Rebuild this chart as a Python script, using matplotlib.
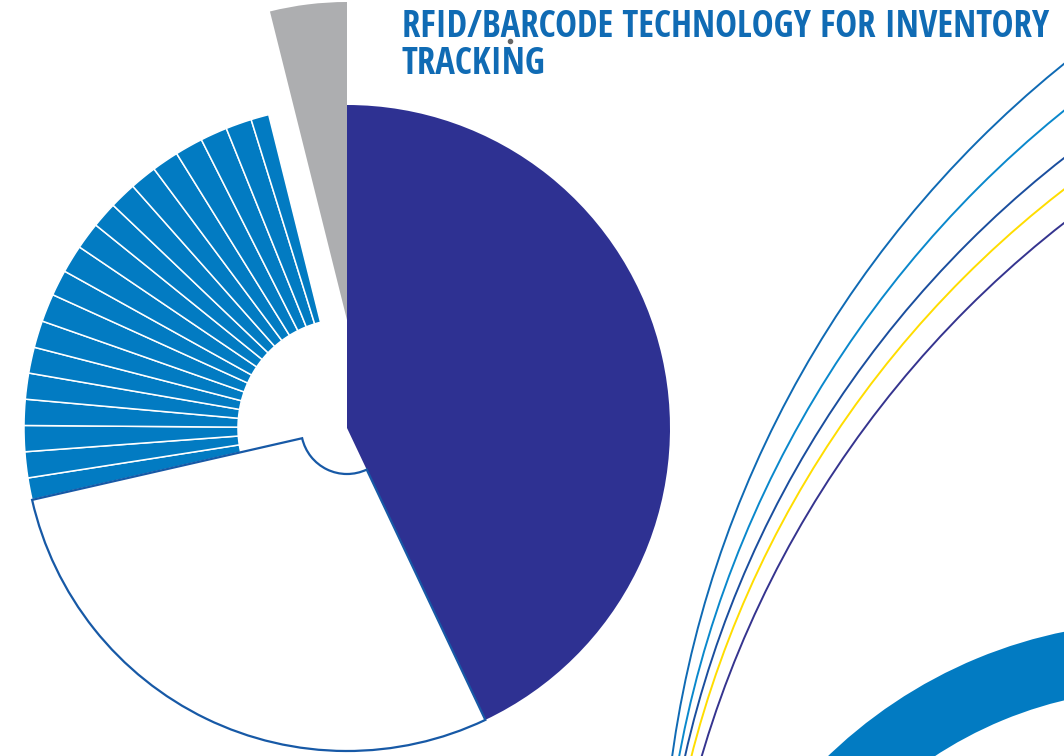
import numpy as np
import matplotlib.pyplot as plt
from matplotlib.patches import Circle, Wedge

# Pie shares in percent (clockwise from 12 o'clock)
lead_shares = [43.0, 28.5]
blue_shares = [1.1, 1.3, 1.3, 1.3, 1.3, 1.3, 1.35, 1.4, 1.3, 1.4,
               1.35, 1.3, 1.35, 1.35, 1.35, 1.4, 1.35, 1.3, 0.9]
gray_share = 3.9

title_lines = ['RFID/BARCODE TECHNOLOGY FOR INVENTORY', 'TRACKING']

# Decorative arcs on the right (centre x, centre y, radius, colour)
arc_cx = [1741, 1745, 1714, 1701, 1712]
arc_cy = [-148, -198, -233, -258, -297]
arc_r = [1079, 1084, 1055, 1042, 1053]
arc_colors = ['#0F6AB4', '#0A88CC', '#1A4E9E', '#FFDD00', '#35348F']

purple = '#2E3192'
blue = '#027BC2'
gray = '#ADAEB0'
outline = '#1759A6'

W, H = 1064, 756
fig = plt.figure(figsize=(W / 100, H / 100), dpi=100)
ax = fig.add_axes([0, 0, 1, 1])

center = (347, 328)
R = 323

values = lead_shares + blue_shares + [gray_share]
colors = [purple, 'white'] + [blue] * len(blue_shares) + [gray]
wedges, _ = ax.pie(values, colors=colors, startangle=90, counterclock=False,
                   radius=R, center=center, frame=True,
                   wedgeprops=dict(edgecolor='white', linewidth=1.1))

# purple slice
wedges[0].set_linewidth(0)

# white slice with a small hole and a blue outline
wedges[1].set_width(R - 46)
wedges[1].set_edgecolor(outline)
wedges[1].set_linewidth(1.6)
wedges[1].set_zorder(3)

# thin blue slices form a ring
for w in wedges[2:-1]:
    w.set_width(R - 109)

# gray slice pulled straight up
wedges[-1].set_center((center[0], center[1] + 108))
wedges[-1].set_radius(318)
wedges[-1].set_linewidth(0)

# thick ring in the lower right corner
ax.add_patch(Wedge((1160, -344), 478, 0, 360, width=67, color=blue, lw=0))

for cx, cy, r, c in zip(arc_cx, arc_cy, arc_r, arc_colors):
    ax.add_patch(Circle((cx, cy), r, fill=False, edgecolor=c, linewidth=1.4))

# title, sized so the first line spans x = 403..1050
font = ['Noto Sans SemiCondensed', 'Open Sans SemiCondensed',
        'Noto Sans Condensed', 'Open Sans Condensed', 'Roboto']
t1 = ax.text(402, H - 37, title_lines[0], color='#106BB4', fontsize=24,
             fontweight='bold', family=font, fontstretch='semi-condensed',
             ha='left', va='baseline')
t2 = ax.text(402, H - 74, title_lines[1], color='#106BB4', fontsize=24,
             fontweight='bold', family=font, fontstretch='semi-condensed',
             ha='left', va='baseline')
fig.canvas.draw()
width = t1.get_window_extent().width
size = 24 * 647 / width
t1.set_fontsize(size)
t2.set_fontsize(size)

ax.plot([510], [H - 41], 'o', color='#666666', markersize=3)

ax.set_xlim(0, W)
ax.set_ylim(0, H)
ax.set_aspect('equal')
ax.axis('off')

fig.savefig('out.png', dpi=100)
